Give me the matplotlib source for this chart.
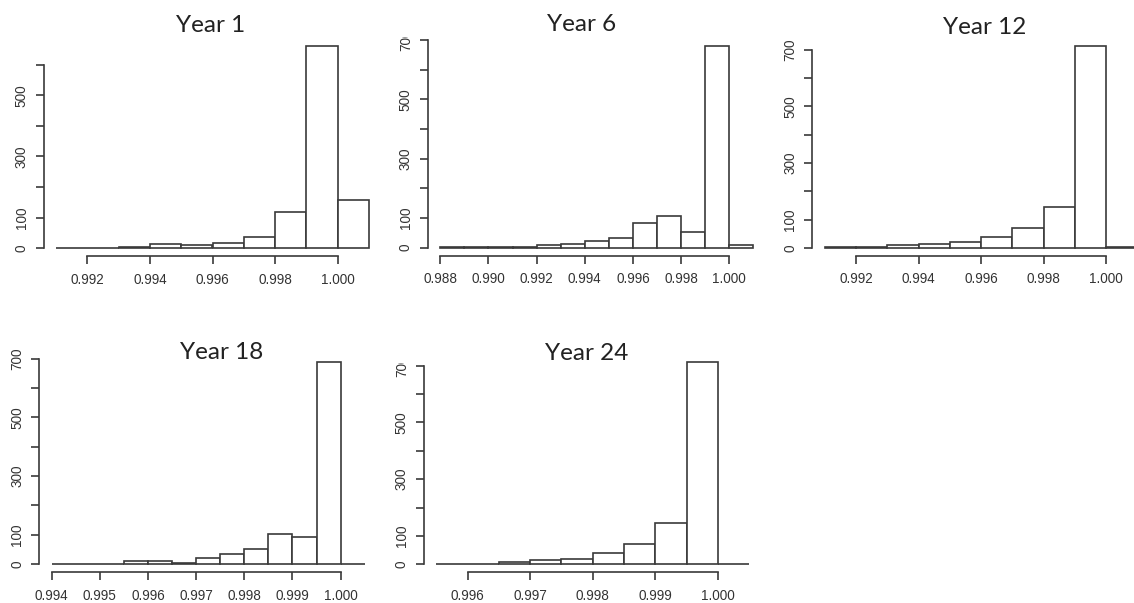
import numpy as np
import matplotlib.pyplot as plt
from matplotlib.transforms import Bbox

W, H = 1134, 603
DPI = 100

titles = ["Year 1", "Year 6", "Year 12", "Year 18", "Year 24"]

# histogram bins: first edge, bin width and counts per bin
bin_start = [0.991, 0.988, 0.991, 0.994, 0.9955]
bin_width = [0.001, 0.001, 0.001, 0.0005, 0.0005]
year1_counts = [1, 2, 3, 13, 9, 16, 37, 117, 660, 157]
year6_counts = [1, 1, 2, 2, 9, 13, 21, 34, 83, 107, 54, 680, 9]
year12_counts = [2, 2, 9, 14, 19, 40, 71, 145, 714, 2]
year18_counts = [1, 1, 2, 9, 9, 4, 22, 34, 51, 101, 93, 688, 2]
year24_counts = [1, 2, 9, 14, 19, 40, 70, 145, 712, 2]
counts = [year1_counts, year6_counts, year12_counts, year18_counts, year24_counts]

xticks = [
    [0.992, 0.994, 0.996, 0.998, 1.000],
    [0.988, 0.990, 0.992, 0.994, 0.996, 0.998, 1.000],
    [0.992, 0.994, 0.996, 0.998, 1.000],
    [0.994, 0.995, 0.996, 0.997, 0.998, 0.999, 1.000],
    [0.996, 0.997, 0.998, 0.999, 1.000],
]
xticklabels = [["%.3f" % v for v in t] for t in xticks]
yticks = [
    [0, 100, 200, 300, 400, 500, 600],
    [0, 100, 200, 300, 400, 500, 600, 700],
    [0, 100, 200, 300, 400, 500, 600, 700],
    [0, 100, 200, 300, 400, 500, 600, 700],
    [0, 100, 200, 300, 400, 500, 600, 700],
]
yticklabels = [
    ["0", "100", "", "300", "", "500", ""],
    ["0", "100", "", "300", "", "500", "", "700"],
    ["0", "100", "", "300", "", "500", "", "700"],
    ["0", "100", "", "300", "", "500", "", "700"],
    ["0", "100", "", "300", "", "500", "", "700"],
]

# plot regions in pixels (left, top), all the same size
boxes = [(43.5, 38.3), (427.8, 37.8), (812.1, 37.9), (39.2, 354.2), (423.7, 354.3)]
box_w, box_h = 338, 218
# title centre x and baseline y in pixels
title_pos = [(210.3, 31.8), (581.7, 30.7), (984.7, 34.3), (221.7, 359.3), (587, 360)]
# the two top panels whose upper edge cuts the 700 label
label_clip_top = {1: 36.7, 4: 362.7}

line_c = "#3a3a3a"
text_c = "#333333"
px = 72 / DPI  # points per pixel

fig = plt.figure(figsize=(W / DPI, H / DPI), dpi=DPI)
fig.patch.set_facecolor("white")

for i in range(5):
    c = np.array(counts[i])
    edges = bin_start[i] + bin_width[i] * np.arange(len(c) + 1)
    lo, hi = edges[0], edges[-1]
    xr = hi - lo
    left, top = boxes[i]
    ax = fig.add_axes([left / W, 1 - (top + box_h) / H, box_w / W, box_h / H])
    ax.set_facecolor("none")

    ax.bar(edges[:-1], c, width=np.diff(edges), align="edge",
           color="white", edgecolor=line_c, linewidth=1.2)

    # R style limits: 4% padding on both axes
    ax.set_xlim(lo - 0.04 * xr, hi + 0.04 * xr)
    ax.set_ylim(-0.04 * c.max(), 1.04 * c.max())

    for s in ["top", "right"]:
        ax.spines[s].set_visible(False)
    for s in ["left", "bottom"]:
        ax.spines[s].set_color(line_c)
        ax.spines[s].set_linewidth(1.2)
    ax.spines["left"].set_bounds(yticks[i][0], yticks[i][-1])
    ax.spines["bottom"].set_bounds(xticks[i][0], xticks[i][-1])

    ax.set_xticks(xticks[i])
    ax.set_xticklabels(xticklabels[i])
    ax.set_yticks(yticks[i])
    ax.set_yticklabels(yticklabels[i], rotation=90, va="center")
    ax.tick_params(axis="both", length=8 * px, width=1.2, color=line_c,
                   labelsize=13.5 * px, labelcolor=text_c)
    ax.tick_params(axis="x", pad=6)
    ax.tick_params(axis="y", pad=5)
    for lab in ax.get_xticklabels() + ax.get_yticklabels():
        lab.set_family("Liberation Sans")

    if i in label_clip_top:
        clip = Bbox.from_extents(0, 0, W, H - label_clip_top[i])
        for lab in ax.get_yticklabels():
            lab.set_clip_box(clip)
            lab.set_clip_on(True)

    tx, ty = title_pos[i]
    fig.text(tx / W, 1 - ty / H, titles[i], ha="center", va="baseline",
             fontsize=17.5, family="Lato", color="#222222")

fig.savefig("out.png", dpi=DPI)
